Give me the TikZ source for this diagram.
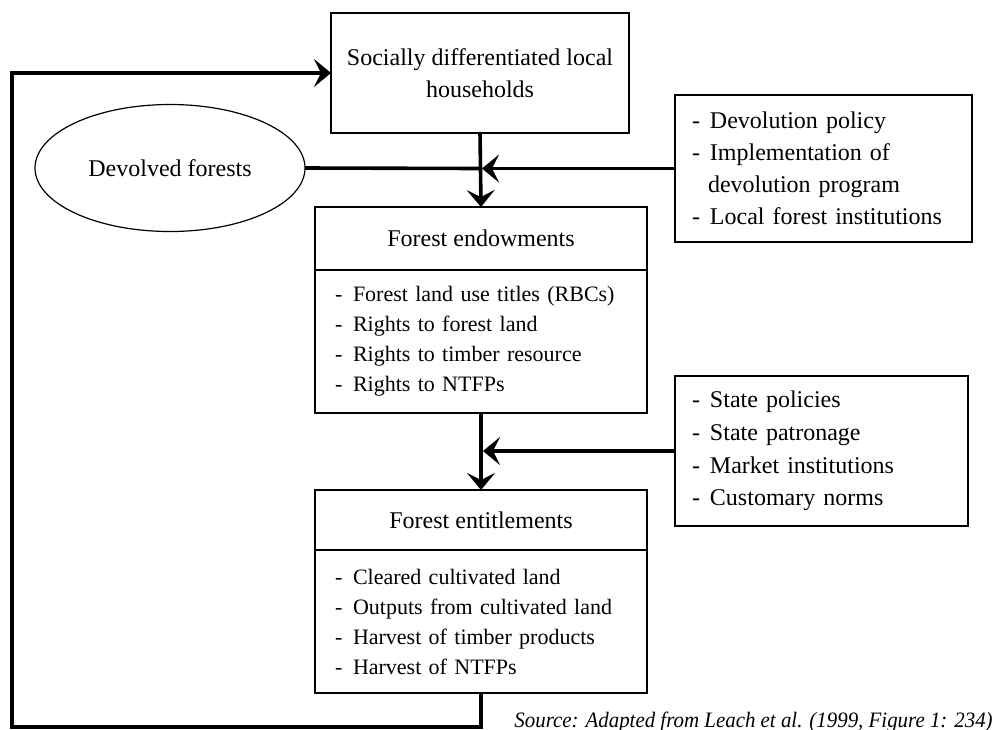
\documentclass[tikz,border=0pt]{standalone}
\usepackage{fontspec}
\setmainfont{Liberation Serif}
\usetikzlibrary{arrows.meta,calc,positioning,shapes.geometric}

\newcommand\li{\makebox[9pt][l]{-}}

\begin{document}
\begin{tikzpicture}[
  x=0.5pt,y=-0.5pt,
  box/.style={draw,line width=.6pt,inner sep=0pt,outer sep=0pt,align=center,
    font=\fontsize{12}{16}\selectfont},
  listbox/.style={draw,line width=.6pt,inner ysep=0pt,outer sep=0pt,align=left,
    font=\fontsize{11}{15}\selectfont},
  link/.style={-{Stealth[length=8.5pt,width=14pt,inset=3.5pt]},line width=1.8pt},
  flow/.style={line width=1.8pt}]
\useasboundingbox (0,0) rectangle (994,729);
\node[box,minimum width=149pt,minimum height=60pt] (house) at (480,73)
  {Socially differentiated local\\households};
\node[box,ellipse,minimum width=135pt,minimum height=63.5pt] (forests) at (170,168)
  {Devolved forests};
\node[listbox,inner xsep=8.5pt,text width=131.5pt,minimum height=73.5pt,
  font=\fontsize{12}{16}\selectfont] (devol) at (823.5,168.5)
  {\li Devolution policy\\\li Implementation of\\\hspace*{8pt}devolution program\\\li Local forest institutions};
\node[box,minimum width=166pt,minimum height=31.5pt] (endowtitle) at (481,238.5)
  {Forest endowments};
\node[listbox,inner xsep=10pt,text width=146pt,minimum height=71.5pt,below=0pt of endowtitle] (endowlist)
  {\li Forest land use titles (RBCs)\\\li Rights to forest land\\\li Rights to timber resource\\\li Rights to NTFPs};
\node[listbox,inner xsep=8.5pt,text width=129.5pt,minimum height=75pt,
  font=\fontsize{12}{16.3}\selectfont] (state) at (821.5,451)
  {\li State policies\\\li State patronage\\\li Market institutions\\\li Customary norms};
\node[box,minimum width=166pt,minimum height=30pt] (entitletitle) at (481,520)
  {Forest entitlements};
\node[listbox,inner xsep=10pt,text width=146pt,minimum height=71.5pt,below=0pt of entitletitle] (entitlelist)
  {\li Cleared cultivated land\\\li Outputs from cultivated land\\\li Harvest of timber products\\\li Harvest of NTFPs};
\node[anchor=base west,inner sep=0pt,font=\fontsize{11}{13}\selectfont\itshape] (source) at (514,727)
  {\scalebox{0.95}[1]{Source: Adapted from Leach et al. (1999, Figure 1: 234)}};
\coordinate (j1) at (house.south |- devol.west);
\coordinate (j2) at (endowlist.south |- state.west);
\coordinate (loop) at (12,727);
\draw[flow] (forests.east) -- (j1);
\draw[link] (devol.west) -- ([xshift=1pt]j1);
\draw[link] (house.south) -- (endowtitle.north);
\draw[link] (state.west) -- ([xshift=1pt]j2);
\draw[link] (endowlist.south) -- (entitletitle.north);
\draw[link] (entitlelist.south) |- (loop) |- (house.west);
\end{tikzpicture}
\end{document}
